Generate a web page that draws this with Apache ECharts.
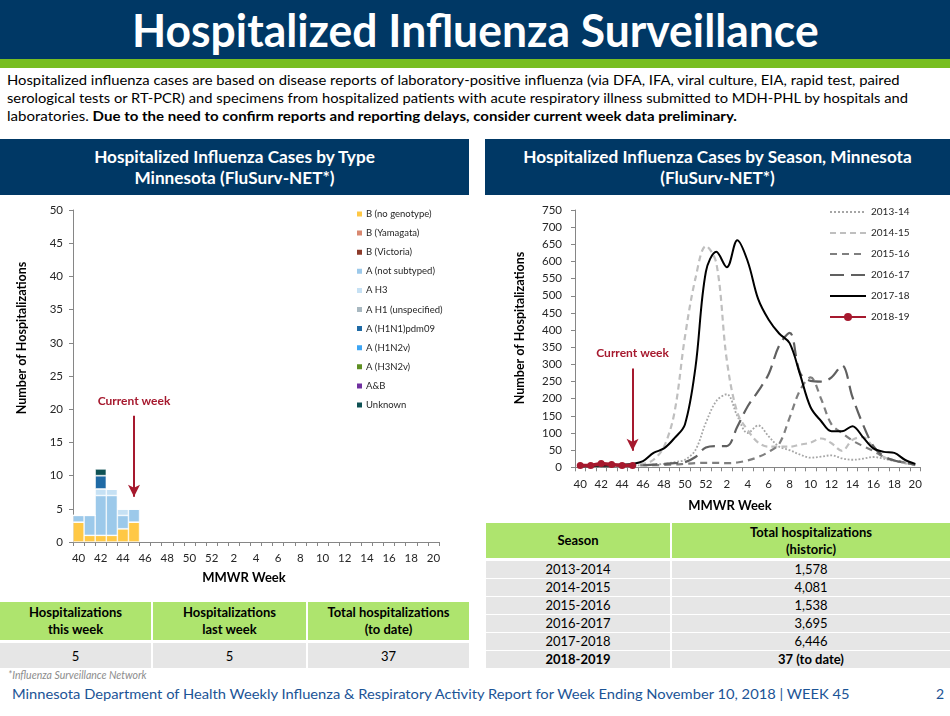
<!DOCTYPE html>
<html>
<head>
<meta charset="utf-8">
<script src="https://cdn.jsdelivr.net/npm/echarts@6.0.0/dist/echarts.min.js"></script>
<style>
  body { margin: 0; width: 950px; height: 716px; position: relative; overflow: hidden; background: #fff; font-family: Lato, "Open Sans", sans-serif; color: #000; }
  .abs { position: absolute; }
  .fit { white-space: nowrap; display: inline-block; }
  .banner { left: 0; top: 0; width: 950px; height: 59px; background: #003865; }
  .stripe { left: 0; top: 59px; width: 950px; height: 9px; background: #78be21; }
  .title { left: 0; top: 5px; width: 950px; text-align: center; color: #fff; font-weight: bold; font-size: 46px; line-height: 50px; }
  .para { left: 7px; font-size: 14px; line-height: 18px; white-space: nowrap; }
  .head { background: #003865; color: #fff; font-weight: bold; font-size: 17.2px; line-height: 21px; text-align: center; display: flex; flex-direction: column; justify-content: center; }
  .cell { display: flex; align-items: center; justify-content: center; text-align: center; font-size: 13px; }
  .th { background: #aee46e; font-weight: bold; line-height: 17px; }
  .td { background: #e6e6e6; }
  .chart { position: absolute; }
</style>
</head>
<body>
<div class="abs banner"></div>
<div class="abs stripe"></div>
<div class="abs title"><span class="fit" id="title">Hospitalized Influenza Surveillance</span></div>

<div class="abs para" style="top:71px"><span class="fit" id="p1">Hospitalized influenza cases are based on disease reports of laboratory-positive influenza (via DFA, IFA, viral culture, EIA, rapid test, paired</span></div>
<div class="abs para" style="top:89px"><span class="fit" id="p2">serological tests or RT-PCR) and specimens from hospitalized patients with acute respiratory illness submitted to MDH-PHL by hospitals and</span></div>
<div class="abs para" style="top:107px"><span class="fit" id="p3">laboratories. <b>Due to the need to confirm reports and reporting delays, consider current week data preliminary.</b></span></div>

<div class="abs head" style="left:0;top:139px;width:469px;height:56px">
  <div>Hospitalized Influenza Cases by Type</div>
  <div>Minnesota (FluSurv-NET*)</div>
</div>
<div class="abs head" style="left:485px;top:139px;width:465px;height:56px">
  <div>Hospitalized Influenza Cases by Season, Minnesota</div>
  <div>(FluSurv-NET*)</div>
</div>

<div id="typeChart" class="chart" style="left:0;top:195px;width:470px;height:405px"></div>
<div id="seasonChart" class="chart" style="left:486px;top:195px;width:464px;height:328px"></div>

<div id="tables"></div>

<div class="abs" style="left:8px;top:669px;font-size:10.5px;font-style:italic;color:#8c8c8c">*Influenza Surveillance Network</div>
<div class="abs" style="left:12px;top:684px;font-size:14px;line-height:20px;color:#1b5496;white-space:nowrap"><span class="fit" id="foot">Minnesota Department of Health Weekly Influenza &amp; Respiratory Activity Report for Week Ending November 10, 2018 | WEEK 45</span></div>
<div class="abs" style="left:936px;top:684px;font-size:14px;line-height:20px;color:#1b5496">2</div>

<script>
// MMWR weeks shown on both charts
const weeks = ['40', '41', '42', '43', '44', '45', '46', '47', '48', '49', '50', '51', '52',
  '1', '2', '3', '4', '5', '6', '7', '8', '9', '10', '11', '12', '13', '14', '15', '16', '17', '18', '19', '20'];

// cases by type, 2018-19 season, weeks 40-45
const bNoGenotype = [3, 1, 1, 1, 2, 3];
const bYamagata = [0, 0, 0, 0, 0, 0];
const bVictoria = [0, 0, 0, 0, 0, 0];
const aNotSubtyped = [1, 3, 6, 6, 2, 2];
const aH3 = [0, 0, 1, 1, 1, 0];
const aH1Unspecified = [0, 0, 0, 0, 0, 0];
const aH1N1pdm09 = [0, 0, 2, 0, 0, 0];
const aH1N2v = [0, 0, 0, 0, 0, 0];
const aH3N2v = [0, 0, 0, 0, 0, 0];
const aAndB = [0, 0, 0, 0, 0, 0];
const unknownType = [0, 0, 1, 0, 0, 0];

const typeNames = ['B (no genotype)', 'B (Yamagata)', 'B (Victoria)', 'A (not subtyped)', 'A H3',
  'A H1 (unspecified)', 'A (H1N1)pdm09', 'A (H1N2v)', 'A (H3N2v)', 'A&B', 'Unknown'];
const typeData = [bNoGenotype, bYamagata, bVictoria, aNotSubtyped, aH3, aH1Unspecified,
  aH1N1pdm09, aH1N2v, aH3N2v, aAndB, unknownType];

// hospitalizations by season, weeks 40..20
const s1314 = [2, 2, 3, 3, 4, 5, 6, 8, 10, 15, 22, 50, 130, 193, 213, 150, 100, 122, 90, 60, 50, 37, 28, 31, 35, 26, 22, 25, 30, 25, 18, 12, 7];
const s1415 = [3, 3, 4, 5, 6, 8, 10, 22, 60, 160, 380, 550, 645, 595, 312, 160, 108, 72, 60, 60, 60, 66, 72, 84, 70, 48, 80, 88, 58, 30, 20, 12, 6];
const s1516 = [3, 3, 4, 4, 5, 5, 6, 6, 7, 8, 10, 12, 13, 13, 12, 14, 20, 30, 45, 68, 145, 225, 262, 200, 125, 100, 78, 62, 48, 30, 20, 14, 8];
const s1617 = [2, 2, 3, 3, 4, 5, 6, 8, 10, 12, 15, 30, 58, 62, 62, 118, 178, 222, 272, 355, 392, 275, 252, 250, 262, 297, 205, 125, 62, 32, 20, 14, 8];
const s1718 = [3, 4, 5, 6, 8, 10, 18, 42, 55, 85, 125, 290, 570, 628, 583, 662, 600, 490, 430, 390, 362, 270, 175, 135, 105, 105, 120, 88, 55, 45, 42, 22, 10];
const s1819 = [5, 5, 11, 8, 5, 5];
const seasonNames = ['2013-14', '2014-15', '2015-16', '2016-17', '2017-18', '2018-19'];
const seasonData = [s1314, s1415, s1516, s1617, s1718, s1819];

// summary tables
const weekSummaryHeads = ['Hospitalizations<br>this week', 'Hospitalizations<br>last week', 'Total hospitalizations<br>(to date)'];
const weekSummaryValues = ['5', '5', '37'];
const seasonLabels = ['2013-2014', '2014-2015', '2015-2016', '2016-2017', '2017-2018', '2018-2019'];
const seasonTotals = ['1,578', '4,081', '1,538', '3,695', '6,446', '37 (to date)'];

const typeColors = ['#ffc845', '#d98870', '#8c3b2a', '#9cc9ea', '#c6e1f4', '#a8b8c0',
  '#1f6aa5', '#3da5f4', '#5e8f22', '#7030a0', '#0e5154'];
const seasonStyles = [
  { color: '#a6a6a6', width: 1.8, type: 'dotted' },
  { color: '#bfbfbf', width: 2.2, type: [6, 4] },
  { color: '#7f7f7f', width: 2.2, type: [7, 5] },
  { color: '#606060', width: 2.2, type: [14, 7] },
  { color: '#000000', width: 2, type: 'solid' },
  { color: '#a6192e', width: 3.5, type: 'solid' }
];

const FONT = 'Lato, "Open Sans", sans-serif';
const RED = '#a6192e';

// squeeze a text line to the width it has on the page
function fit(id, w, origin) {
  const el = document.getElementById(id);
  el.style.transformOrigin = origin;
  el.style.transform = 'scaleX(' + (w / el.offsetWidth) + ')';
}

function axisCommon() {
  return {
    axisLine: { show: true, lineStyle: { color: '#868686', width: 1 } },
    axisTick: { show: true, length: 4, lineStyle: { color: '#868686' } },
    axisLabel: { color: '#262626', fontFamily: FONT, fontSize: 11.5 },
    splitLine: { show: false }
  };
}

function arrowLine(top, bottom) {
  return {
    silent: true,
    symbol: ['none', 'arrow'],
    symbolSize: [9, 12],
    lineStyle: { color: RED, width: 2, type: 'solid' },
    label: { show: true, position: 'start', distance: 9, formatter: 'Current week', color: RED, fontFamily: FONT, fontWeight: 'bold', fontSize: 12 },
    data: [[{ coord: ['45', top] }, { coord: ['45', bottom] }]]
  };
}

function axisTitles(xName, xPos, yName, yPos) {
  return [
    { type: 'text', x: xPos[0], y: xPos[1], style: { text: xName, font: 'bold 13px ' + FONT, fill: '#000', align: 'center', verticalAlign: 'middle' } },
    { type: 'text', x: yPos[0], y: yPos[1], rotation: Math.PI / 2, style: { text: yName, font: 'bold 12.5px ' + FONT, fill: '#000', align: 'center', verticalAlign: 'middle' } }
  ];
}

// left chart: stacked bars by type
const typeChart = echarts.init(document.getElementById('typeChart'));
const xa1 = axisCommon();
xa1.type = 'category';
xa1.data = weeks;
xa1.boundaryGap = true;
xa1.axisTick.interval = 0;
xa1.axisLabel.interval = 1;
xa1.axisLabel.margin = 10;
const ya1 = axisCommon();
ya1.type = 'value';
ya1.min = 0; ya1.max = 50; ya1.interval = 5;
ya1.axisLabel.margin = 10;

typeChart.setOption({
  animation: false,
  grid: { left: 73, top: 15, width: 366, height: 332 },
  legend: {
    orient: 'vertical', left: 350, top: 9,
    itemWidth: 7, itemHeight: 7, itemGap: 9.1,
    icon: 'rect',
    textStyle: { fontFamily: FONT, fontSize: 9.5, color: '#262626', padding: [0, 0, 0, -2] },
    data: typeNames
  },
  xAxis: xa1,
  yAxis: ya1,
  graphic: axisTitles('MMWR Week', [244, 383], 'Number of Hospitalizations', [22, 143]),
  series: typeNames.map((name, i) => ({
    name: name,
    type: 'bar',
    stack: 'type',
    barCategoryGap: '0%',
    data: typeData[i],
    itemStyle: { color: typeColors[i], borderColor: '#ffffff', borderWidth: 0.6 },
    markLine: i === 0 ? arrowLine(19, 6.8) : undefined
  }))
});

// right chart: weekly hospitalizations by season
const seasonChart = echarts.init(document.getElementById('seasonChart'));
const xa2 = axisCommon();
xa2.type = 'category';
xa2.data = weeks;
xa2.boundaryGap = true;
xa2.axisTick.interval = 0;
xa2.axisLabel.interval = 1;
xa2.axisLabel.margin = 11;
const ya2 = axisCommon();
ya2.type = 'value';
ya2.min = 0; ya2.max = 750; ya2.interval = 50;
ya2.axisLabel.margin = 13;

seasonChart.setOption({
  animation: false,
  grid: { left: 89, top: 15, width: 345.5, height: 257.3 },
  legend: {
    orient: 'vertical', left: 338, top: 7,
    itemWidth: 36, itemHeight: 10, itemGap: 11,
    textStyle: { fontFamily: FONT, fontSize: 10, color: '#262626' },
    data: seasonNames.map((name, i) => i === seasonNames.length - 1
      ? { name: name }
      : { name: name, itemStyle: { opacity: 0 } })
  },
  xAxis: xa2,
  yAxis: ya2,
  graphic: axisTitles('MMWR Week', [244, 311], 'Number of Hospitalizations', [34, 133]),
  series: seasonNames.map((name, i) => {
    const last = i === seasonNames.length - 1;
    return {
      name: name,
      type: 'line',
      data: seasonData[i],
      smooth: last ? false : 0.35,
      symbol: last ? 'circle' : 'none',
      symbolSize: 7,
      showAllSymbol: true,
      itemStyle: { color: seasonStyles[i].color },
      lineStyle: seasonStyles[i],
      z: 2 + i,
      markLine: last ? arrowLine(288, 48) : undefined
    };
  })
});

// summary tables
const tables = document.getElementById('tables');
function cell(x, y, w, h, cls, html) {
  const d = document.createElement('div');
  d.className = 'abs cell ' + cls;
  d.style.cssText = 'left:' + x + 'px;top:' + y + 'px;width:' + w + 'px;height:' + h + 'px';
  d.innerHTML = html;
  tables.appendChild(d);
}
const leftCols = [[0, 151], [153, 153], [308, 161]];
leftCols.forEach((c, i) => {
  cell(c[0], 602, c[1], 38, 'th', weekSummaryHeads[i]);
  cell(c[0], 643, c[1], 25, 'td', weekSummaryValues[i]);
});
cell(486, 523, 184, 35, 'th', 'Season');
cell(672, 523, 278, 35, 'th', 'Total hospitalizations<br>(historic)');
seasonLabels.forEach((s, i) => {
  const y = 561 + i * 18;
  const b = i === seasonLabels.length - 1 ? '<b>' : '';
  const e = b ? '</b>' : '';
  cell(486, y, 184, 16.5, 'td', b + s + e);
  cell(672, y, 278, 16.5, 'td', b + seasonTotals[i] + e);
});

fit('title', 687, 'center');
fit('p1', 892, 'left');
fit('p2', 901, 'left');
fit('p3', 730, 'left');
fit('foot', 837, 'left');
</script>
</body>
</html>
